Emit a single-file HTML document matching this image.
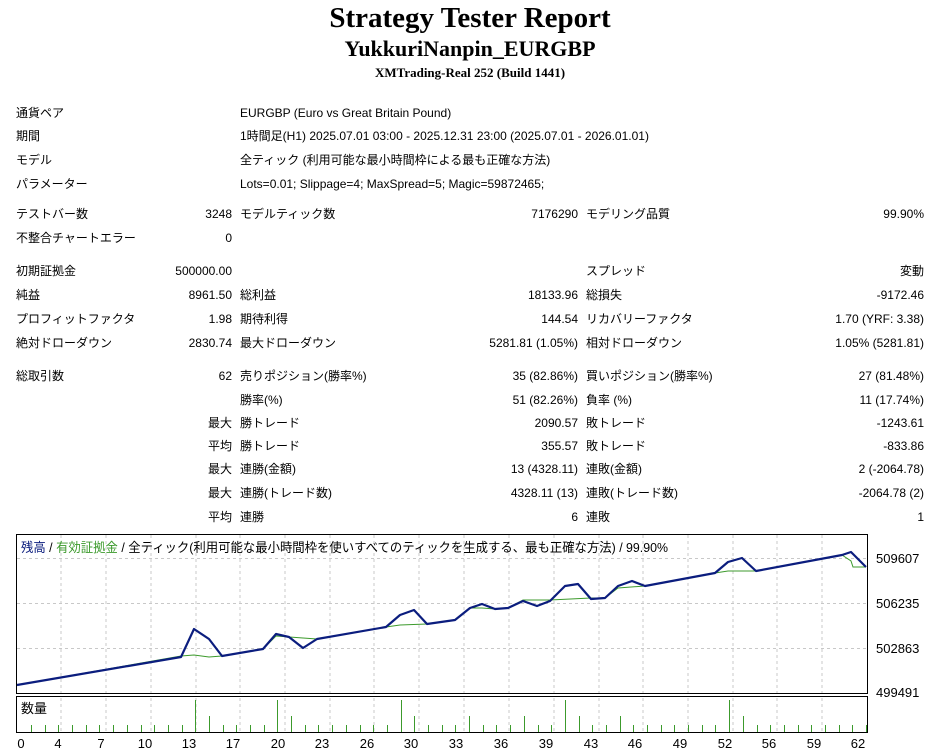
<!DOCTYPE html>
<html><head><meta charset="utf-8"><style>
body{margin:0;width:940px;height:750px;background:#fff;position:relative;overflow:hidden;font-family:"Liberation Sans","Noto Sans CJK JP",sans-serif;font-size:12px;color:#000}
.t{position:absolute;white-space:nowrap;line-height:14px}
.r{text-align:right}
h1,h2,h3{position:absolute;left:0;width:940px;text-align:center;margin:0;font-family:"Liberation Serif",serif;font-weight:bold;line-height:1}
</style></head><body>
<h1 style="top:4px;font-size:29px">Strategy Tester Report</h1>
<h2 style="top:38px;font-size:22px">YukkuriNanpin_EURGBP</h2>
<h3 style="top:66px;font-size:13px">XMTrading-Real 252 (Build 1441)</h3>

<div class="t" style="left:16px;top:106px">通貨ペア</div><div class="t" style="left:240px;top:106px">EURGBP (Euro vs Great Britain Pound)</div>
<div class="t" style="left:16px;top:129px">期間</div><div class="t" style="left:240px;top:129px">1時間足(H1) 2025.07.01 03:00 - 2025.12.31 23:00 (2025.07.01 - 2026.01.01)</div>
<div class="t" style="left:16px;top:153px">モデル</div><div class="t" style="left:240px;top:153px">全ティック (利用可能な最小時間枠による最も正確な方法)</div>
<div class="t" style="left:16px;top:177px">パラメーター</div><div class="t" style="left:240px;top:177px">Lots=0.01; Slippage=4; MaxSpread=5; Magic=59872465;</div>

<div class="t" style="left:16px;top:207px">テストバー数</div><div class="t r" style="right:708px;top:207px">3248</div><div class="t" style="left:240px;top:207px">モデルティック数</div><div class="t r" style="right:362px;top:207px">7176290</div><div class="t" style="left:586px;top:207px">モデリング品質</div><div class="t r" style="right:16px;top:207px">99.90%</div>
<div class="t" style="left:16px;top:231px">不整合チャートエラー</div><div class="t r" style="right:708px;top:231px">0</div>

<div class="t" style="left:16px;top:264px">初期証拠金</div><div class="t r" style="right:708px;top:264px">500000.00</div><div class="t" style="left:586px;top:264px">スプレッド</div><div class="t r" style="right:16px;top:264px">変動</div>
<div class="t" style="left:16px;top:288px">純益</div><div class="t r" style="right:708px;top:288px">8961.50</div><div class="t" style="left:240px;top:288px">総利益</div><div class="t r" style="right:362px;top:288px">18133.96</div><div class="t" style="left:586px;top:288px">総損失</div><div class="t r" style="right:16px;top:288px">-9172.46</div>
<div class="t" style="left:16px;top:312px">プロフィットファクタ</div><div class="t r" style="right:708px;top:312px">1.98</div><div class="t" style="left:240px;top:312px">期待利得</div><div class="t r" style="right:362px;top:312px">144.54</div><div class="t" style="left:586px;top:312px">リカバリーファクタ</div><div class="t r" style="right:16px;top:312px">1.70 (YRF: 3.38)</div>
<div class="t" style="left:16px;top:336px">絶対ドローダウン</div><div class="t r" style="right:708px;top:336px">2830.74</div><div class="t" style="left:240px;top:336px">最大ドローダウン</div><div class="t r" style="right:362px;top:336px">5281.81 (1.05%)</div><div class="t" style="left:586px;top:336px">相対ドローダウン</div><div class="t r" style="right:16px;top:336px">1.05% (5281.81)</div>

<div class="t" style="left:16px;top:369px">総取引数</div><div class="t r" style="right:708px;top:369px">62</div><div class="t" style="left:240px;top:369px">売りポジション(勝率%)</div><div class="t r" style="right:362px;top:369px">35 (82.86%)</div><div class="t" style="left:586px;top:369px">買いポジション(勝率%)</div><div class="t r" style="right:16px;top:369px">27 (81.48%)</div>
<div class="t" style="left:240px;top:393px">勝率(%)</div><div class="t r" style="right:362px;top:393px">51 (82.26%)</div><div class="t" style="left:586px;top:393px">負率 (%)</div><div class="t r" style="right:16px;top:393px">11 (17.74%)</div>
<div class="t r" style="right:708px;top:416px">最大</div><div class="t" style="left:240px;top:416px">勝トレード</div><div class="t r" style="right:362px;top:416px">2090.57</div><div class="t" style="left:586px;top:416px">敗トレード</div><div class="t r" style="right:16px;top:416px">-1243.61</div>
<div class="t r" style="right:708px;top:439px">平均</div><div class="t" style="left:240px;top:439px">勝トレード</div><div class="t r" style="right:362px;top:439px">355.57</div><div class="t" style="left:586px;top:439px">敗トレード</div><div class="t r" style="right:16px;top:439px">-833.86</div>
<div class="t r" style="right:708px;top:462px">最大</div><div class="t" style="left:240px;top:462px">連勝(金額)</div><div class="t r" style="right:362px;top:462px">13 (4328.11)</div><div class="t" style="left:586px;top:462px">連敗(金額)</div><div class="t r" style="right:16px;top:462px">2 (-2064.78)</div>
<div class="t r" style="right:708px;top:486px">最大</div><div class="t" style="left:240px;top:486px">連勝(トレード数)</div><div class="t r" style="right:362px;top:486px">4328.11 (13)</div><div class="t" style="left:586px;top:486px">連敗(トレード数)</div><div class="t r" style="right:16px;top:486px">-2064.78 (2)</div>
<div class="t r" style="right:708px;top:510px">平均</div><div class="t" style="left:240px;top:510px">連勝</div><div class="t r" style="right:362px;top:510px">6</div><div class="t" style="left:586px;top:510px">連敗</div><div class="t r" style="right:16px;top:510px">1</div>

<svg style="position:absolute;left:0;top:0" width="940" height="750" xmlns="http://www.w3.org/2000/svg" font-family="Liberation Sans, Noto Sans CJK JP, sans-serif">
<g stroke="#c8c8c8" stroke-dasharray="3,3" stroke-width="1">
<path d="M17 558.5H868M17 603.5H868M17 648.5H868"/>
<path d="M61 535V693M106 535V693M151 535V693M196 535V693M240 535V693M285 535V693M330 535V693M374 535V693M419 535V693M464 535V693M509 535V693M554 535V693M599 535V693M643 535V693M688 535V693M733 535V693M777 535V693M822 535V693"/>
<path d="M61 698V732M106 698V732M151 698V732M196 698V732M240 698V732M285 698V732M330 698V732M374 698V732M419 698V732M464 698V732M509 698V732M554 698V732M599 698V732M643 698V732M688 698V732M733 698V732M777 698V732M822 698V732"/>
</g>
<rect x="16.5" y="534.5" width="851" height="159" fill="none" stroke="#000"/>
<rect x="16.5" y="696.5" width="851" height="36" fill="none" stroke="#000"/>
<polyline fill="none" stroke="#3c9a2c" stroke-width="1" points="17,685 181,656 194,655 209,657 222,656 263,649 276,636 303,638 317,639 386,627 400,625 427,624 455,620 470,608 482,608 495,609 508,608 523,600 550,600 591,598 605,598 618,588 645,586 715,573 728,571 756,571 842,555 851,561 853,567 866,567"/>
<polyline fill="none" stroke="#0b1d7e" stroke-width="2.2" stroke-linejoin="round" points="17,685 181,657 194,629 209,639 222,656 263,649 276,634 289,637 303,648 317,639 386,627 400,615 414,610 427,624 455,620 470,608 482,604 495,609 508,608 523,601 537,606 550,601 565,586 578,584 591,599 605,598 618,586 632,581 645,586 715,573 728,562 742,558 756,571 842,555 851,552 866,567"/>
<path stroke="#3c9a2c" stroke-width="1" fill="none" d="M31.5 725V732M45.5 725V732M58.5 725V732M72.5 725V732M86.5 725V732M99.5 725V732M113.5 725V732M127.5 725V732M141.5 725V732M154.5 725V732M168.5 725V732M182.5 725V732M195.5 700V732M209.5 716V732M223.5 725V732M236.5 725V732M250.5 725V732M264.5 725V732M277.5 700V732M291.5 716V732M305.5 725V732M318.5 725V732M332.5 725V732M346.5 725V732M360.5 725V732M373.5 725V732M387.5 725V732M401.5 700V732M414.5 716V732M428.5 725V732M442.5 725V732M455.5 725V732M469.5 716V732M483.5 725V732M496.5 725V732M510.5 725V732M524.5 716V732M538.5 725V732M551.5 725V732M565.5 700V732M579.5 716V732M592.5 725V732M606.5 725V732M620.5 716V732M633.5 725V732M647.5 725V732M661.5 725V732M674.5 725V732M688.5 725V732M702.5 725V732M715.5 725V732M729.5 700V732M743.5 716V732M757.5 725V732M770.5 725V732M784.5 725V732M798.5 725V732M811.5 725V732M825.5 725V732M839.5 725V732M852.5 725V732M866.5 725V732"/>
<text x="21" y="552" font-size="13" fill="#0b1d7e" textLength="647" lengthAdjust="spacingAndGlyphs">残高 <tspan fill="#000">/</tspan> <tspan fill="#3c9a2c">有効証拠金</tspan> <tspan fill="#000">/ 全ティック(利用可能な最小時間枠を使いすべてのティックを生成する、最も正確な方法) / 99.90%</tspan></text>
<text x="21" y="713" font-size="13">数量</text>
<g font-size="13" fill="#000">
<text x="876" y="563">509607</text><text x="876" y="608">506235</text><text x="876" y="653">502863</text><text x="876" y="697">499491</text>
</g>
<g font-size="13" text-anchor="middle">
<text x="21" y="748">0</text><text x="58" y="748">4</text><text x="101" y="748">7</text><text x="145" y="748">10</text><text x="189" y="748">13</text><text x="233" y="748">17</text><text x="278" y="748">20</text><text x="322" y="748">23</text><text x="367" y="748">26</text><text x="411" y="748">30</text><text x="456" y="748">33</text><text x="501" y="748">36</text><text x="546" y="748">39</text><text x="591" y="748">43</text><text x="635" y="748">46</text><text x="680" y="748">49</text><text x="725" y="748">52</text><text x="769" y="748">56</text><text x="814" y="748">59</text><text x="858" y="748">62</text>
</g>
</svg>
</body></html>
